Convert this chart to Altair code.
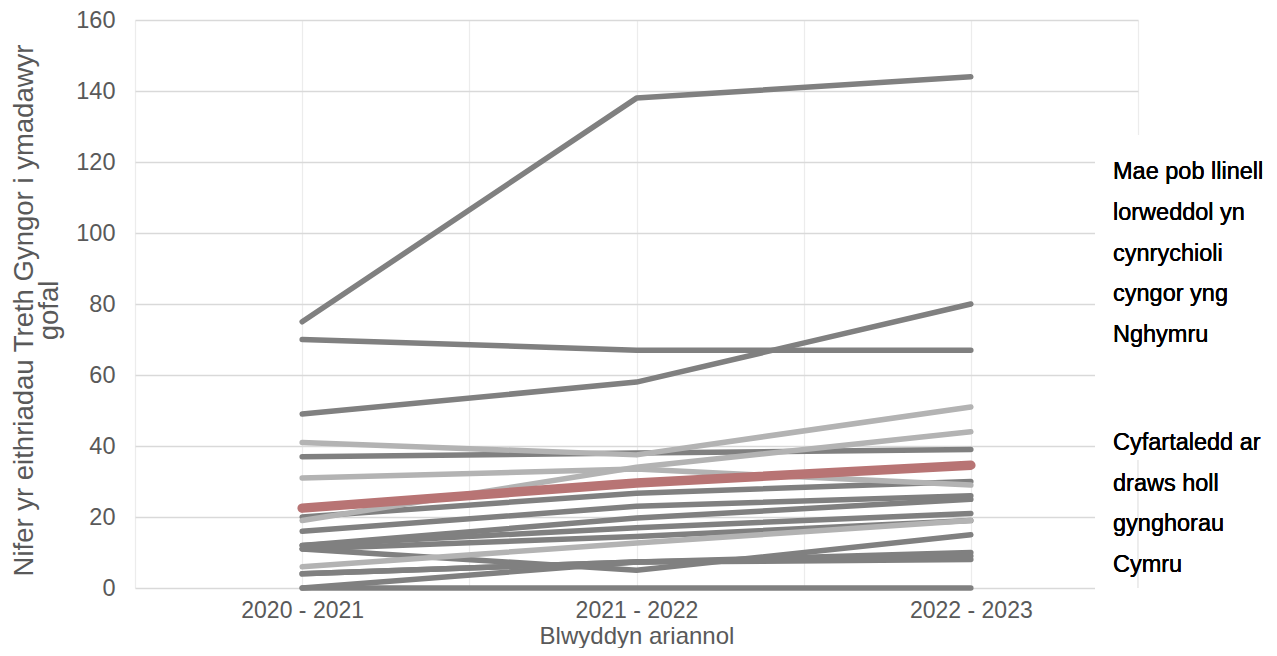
import altair as alt
import pandas as pd

years = ["2020 - 2021", "2021 - 2022", "2022 - 2023"]

# each council (dark grey)
dark_series = [
    [75, 138, 144],
    [70, 67, 67],
    [49, 58, 80],
    [37, 38, 39],
    [20, 26.7, 30],
    [16, 23, 26],
    [12, 19.7, 25],
    [12, 17, 21],
    [11, 14.5, 19],
    [11, 5, 15],
    [4, 7.3, 10],
    [4, 7.3, 9],
    [0, 7.3, 8],
    [0, 0, 0],
]
# councils drawn in light grey
light_series = [
    [41, 37.5, 51],
    [31, 33.5, 29],
    [19, 34, 44],
    [6, 12.7, 19],
]
# average across all councils in Wales
average = [22.5, 29.6, 34.6]

note_1 = ["Mae pob llinell", "lorweddol yn", "cynrychioli", "cyngor yng", "Nghymru"]
note_2 = ["Cyfartaledd ar", "draws holl", "gynghorau", "Cymru"]

DARK = "#808080"
LIGHT = "#b3b3b3"
RED = "#b87474"
FONT = "Liberation Sans"


def long(series_list, prefix):
    rows = []
    for i, s in enumerate(series_list):
        for j, v in enumerate(s):
            rows.append({"series": f"{prefix}{i}", "idx": j, "value": v})
    return pd.DataFrame(rows)


df_dark = long(dark_series, "d")
df_light = long(light_series, "l")
df_avg = long([average], "a")

label_expr = " : ".join(
    f"datum.value == {i} ? '{y}'" for i, y in enumerate(years)
) + " : ''"

x_enc = alt.X(
    "idx:Q",
    scale=alt.Scale(domain=[-0.5, len(years) - 0.5], nice=False, zero=False),
    axis=alt.Axis(
        values=[-0.5, 0, 0.5, 1, 1.5, 2, 2.5],
        labelExpr=label_expr,
        labelOverlap=False,
        labelFlush=False,
        grid=True,
        gridColor="#ececec",
        gridWidth=1.2,
        domain=False,
        ticks=False,
        labelFontSize=23,
        labelColor="#595959",
        labelPadding=11,
        title="Blwyddyn ariannol",
        titleFontSize=24,
        titleFontWeight="normal",
        titleColor="#595959",
        titlePadding=2,
    ),
)
y_enc = alt.Y(
    "value:Q",
    scale=alt.Scale(domain=[0, 160], nice=False),
    axis=alt.Axis(
        values=list(range(0, 161, 20)),
        grid=True,
        gridColor="#d9d9d9",
        gridWidth=1.5,
        domain=False,
        ticks=False,
        labelFontSize=23.5,
        labelColor="#595959",
        labelPadding=20,
        title=["Nifer yr eithriadau Treth Gyngor i ymadawyr", "gofal"],
        titleFontSize=27.5,
        titleFontWeight="normal",
        titleColor="#595959",
        titlePadding=12,
        titleLineHeight=25,
        titleY=290,
    ),
)

dark = alt.Chart(df_dark).mark_line(
    color=DARK, strokeWidth=5.5, strokeCap="round", strokeJoin="round"
).encode(x=x_enc, y=y_enc, detail="series:N")

light = alt.Chart(df_light).mark_line(
    color=LIGHT, strokeWidth=5.5, strokeCap="round", strokeJoin="round"
).encode(x="idx:Q", y="value:Q", detail="series:N")

avg = alt.Chart(df_avg).mark_line(
    color=RED, strokeWidth=9.5, strokeCap="round", strokeJoin="round"
).encode(x="idx:Q", y="value:Q", detail="series:N")

cover = alt.Chart(df_avg).mark_rect(color="white", strokeWidth=0).encode(
    x=alt.value(960), x2=alt.value(1060), y=alt.value(115), y2=alt.value(576)
)
edge = alt.Chart(df_avg).mark_rule(color="#ececec", strokeWidth=1.2).encode(
    x=alt.value(1003), y=alt.value(440), y2=alt.value(568)
)

text1 = alt.Chart(df_avg).mark_text(
    align="left", baseline="top", fontSize=23.5, font=FONT, color="black",
    lineHeight=40.8,
).encode(x=alt.value(978), y=alt.value(140), text=alt.value(note_1))

text2 = alt.Chart(df_avg).mark_text(
    align="left", baseline="top", fontSize=23.5, font=FONT, color="black",
    lineHeight=40.5,
).encode(x=alt.value(978), y=alt.value(411), text=alt.value(note_2))

chart = alt.layer(dark, light, avg, cover, edge, text1, text2).properties(
    width=1003,
    height=568,
    autosize=alt.AutoSizeParams(type="none"),
    padding={"left": 127, "top": 12, "right": 128, "bottom": 60},
).configure_view(stroke=None).configure_axis(
    labelFont=FONT, titleFont=FONT
)

chart.save("out.html", embed_options={"renderer": "svg", "actions": False})
